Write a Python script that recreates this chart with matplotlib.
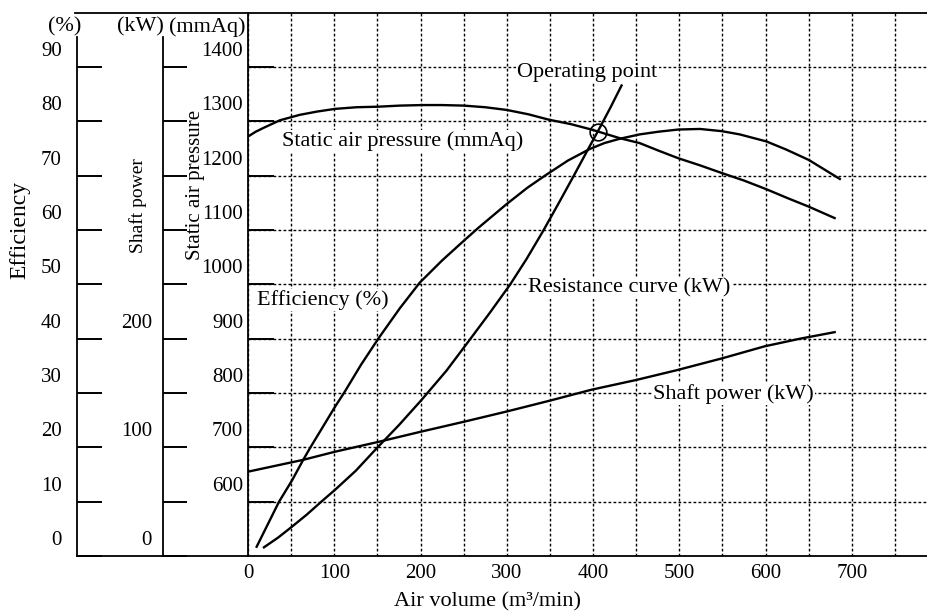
import matplotlib
matplotlib.use("Agg")
import matplotlib.pyplot as plt
from matplotlib.transforms import ScaledTranslation

plt.rcParams['font.family'] = ['Liberation Serif', 'DejaVu Serif']

# curves (air volume in m3/min)
air_eff = [10, 36, 51, 64, 72, 101, 112, 131, 151, 176, 199, 225, 250, 267, 300, 324, 346,
           371, 396, 413, 431, 454, 476, 499, 524, 549, 570, 601, 624, 650, 686]
efficiency = [1.7, 10.0, 13.9, 17.7, 19.9, 27.5, 30.2, 35.2, 40.0, 45.6, 50.3, 54.4, 58.0, 60.4, 64.8, 67.8, 70.2,
              72.8, 74.9, 76.0, 76.8, 77.6, 78.1, 78.5, 78.6, 78.2, 77.6, 76.3, 74.8, 72.9, 69.4]

air_static = [0, 9, 18, 37, 60, 80, 101, 126, 151, 176, 202, 225, 250, 275, 300, 325, 349,
              374, 398, 431, 454, 476, 499, 524, 549, 575, 601, 625, 650, 680]
static_p = [1272, 1281, 1288, 1302, 1312, 1318, 1323, 1326, 1327, 1329, 1330, 1330, 1329, 1326, 1321, 1313, 1303,
            1295, 1285, 1269, 1260, 1246, 1232, 1219, 1205, 1191, 1175, 1159, 1143, 1122]

air_res = [18.5, 35, 51, 68, 85, 101, 125, 149, 175, 201, 230, 257, 280, 304, 323, 342, 360, 378, 396, 406, 420, 433]
res_p = [516, 534, 554, 576, 600, 622, 657, 698, 741, 787, 841, 898, 947, 1000, 1047, 1098, 1149, 1201, 1254, 1283, 1325, 1366]

air_shaft = [0, 64, 101, 151, 201, 250, 300, 350, 398, 450, 497, 550, 599, 640, 680]
shaft_kw = [77.6, 88.5, 96, 105, 114.5, 123.5, 133, 143, 153, 162, 171, 182, 193, 200, 206]

op_air, op_p = 406, 1281

# axis ticks / labels
eff_ticks = [0, 10, 20, 30, 40, 50, 60, 70, 80, 90]
shaft_ticks = [0, 50, 100, 150, 200, 250, 300, 350, 400, 450]
shaft_labels = ['0', '', '100', '', '200', '', '', '', '', '']
static_ticks = [600, 700, 800, 900, 1000, 1100, 1200, 1300, 1400]
air_ticks = [0, 100, 200, 300, 400, 500, 600, 700]
air_minor = [50, 150, 250, 350, 450, 550, 650, 750]

W, H = 928, 613
fig = plt.figure(figsize=(W / 100, H / 100), dpi=100)
px0, py0, px1, py1 = 248, 556, 928, 12.7
ax = fig.add_axes([px0 / W, (H - py0) / H, (px1 - px0) / W, (py0 - py1) / H])
ax_p = ax.twinx()
ax_s = ax.twinx()

ax.set_xlim(0, (px1 - px0) / 0.8627)
ax.set_ylim(0, 100)
ax_p.set_ylim(500, 1500)
ax_s.set_ylim(0, 500)

for a in (ax, ax_p, ax_s):
    for s in a.spines.values():
        s.set_visible(False)
    a.spines['left'].set_visible(True)
    a.spines['left'].set_linewidth(1.3)
for a in (ax_p, ax_s):
    a.yaxis.tick_left()
    a.yaxis.set_label_position('left')

ax.spines['left'].set_position(('axes', (77 - 248) / 680))
ax.spines['left'].set_bounds(0, 95.6)
ax_s.spines['left'].set_position(('axes', (163 - 248) / 680))
ax_s.spines['left'].set_bounds(0, 478)

ax.set_yticks(eff_ticks)
ax_s.set_yticks(shaft_ticks, shaft_labels)
ax_p.set_yticks(static_ticks)
ax.set_xticks(air_ticks)
ax.set_xticks(air_minor, minor=True)

ax.tick_params(axis='y', direction='in', length=18, width=1.4, pad=11, labelsize=15)
ax_s.tick_params(axis='y', direction='in', length=17, width=1.4, pad=8, labelsize=15)
ax_p.tick_params(axis='y', direction='in', length=19, width=1.4, pad=3.5, labelsize=15)
ax.tick_params(axis='x', which='both', length=0, pad=6, labelsize=15)

grid_ls = (0, (2, 1.6))
ax.grid(True, which='both', axis='x', color='k', lw=1.0, ls=grid_ls)
ax.grid(True, which='major', axis='y', color='k', lw=1.0, ls=grid_ls)

# tick labels sit a little above their ticks in the original
off = ScaledTranslation(0, 0.18, fig.dpi_scale_trans)
for a in (ax, ax_s, ax_p):
    for lab in a.get_yticklabels():
        lab.set_transform(lab.get_transform() + off)

# frame lines reaching out to the left axes
ax.plot([(75 - 248) / 680, 1], [1, 1], transform=ax.transAxes, clip_on=False, color='k', lw=1.3)
ax.plot([(77 - 248) / 680, 1], [0, 0], transform=ax.transAxes, clip_on=False, color='k', lw=1.3)

# curves
ax.plot(air_eff, efficiency, color='k', lw=1.7, zorder=4)
ax_p.plot(air_static, static_p, color='k', lw=1.7)
ax_p.plot(air_res, res_p, color='k', lw=1.7)
ax_s.plot(air_shaft, shaft_kw, color='k', lw=1.7)
ax_p.plot([op_air], [op_p], 'o', mfc='none', mec='k', ms=12, mew=1.2)

box = dict(fc='white', ec='none', pad=1)
ax.text(311.8, 88.2, 'Operating point', fontsize=16, va='baseline', bbox=box, zorder=3)
ax.text(39, 75.4, 'Static air pressure (mmAq)', fontsize=16, va='baseline', bbox=box, zorder=3)
ax.text(10, 46.2, 'Efficiency (%)', fontsize=16, va='baseline', bbox=box, zorder=3)
ax.text(324.9, 48.5, 'Resistance curve (kW)', fontsize=16, va='baseline', bbox=box, zorder=3)
ax.text(469.8, 28.9, 'Shaft power (kW)', fontsize=16, va='baseline', bbox=box, zorder=3)

ax.text((488 - 248) / 680, -0.0847, 'Air volume (m³/min)', transform=ax.transAxes,
        ha='center', va='center', fontsize=16)

# axis titles and unit headers
fig.text(19.5 / W, 1 - 230 / H, 'Efficiency', rotation=90, ha='center', va='center', fontsize=17)
fig.text(138.5 / W, 1 - 206 / H, 'Shaft power', rotation=90, ha='center', va='center', fontsize=14)
fig.text(195.5 / W, 1 - 185 / H, 'Static air pressure', rotation=90, ha='center', va='center', fontsize=15)
fig.text(64.5 / W, 1 - 27 / H, '(%)', ha='center', va='center', fontsize=16)
fig.text(140 / W, 1 - 27 / H, '(kW)', ha='center', va='center', fontsize=16)
fig.text(207 / W, 1 - 27 / H, '(mmAq)', ha='center', va='center', fontsize=16)

fig.savefig('out.png', dpi=100)
